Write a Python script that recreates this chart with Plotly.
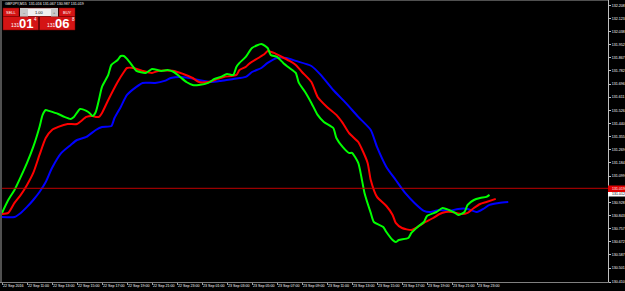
import plotly.graph_objects as go

# ---------------- data (GBPJPY, M15) ----------------
fast_time = ["2016-09-22 09:00", "2016-09-22 09:30", "2016-09-22 10:00", "2016-09-22 10:30", "2016-09-22 11:00",
             "2016-09-22 11:30", "2016-09-22 12:00", "2016-09-22 12:15", "2016-09-22 12:30", "2016-09-22 12:45",
             "2016-09-22 13:30", "2016-09-22 14:00", "2016-09-22 14:30", "2016-09-22 14:45", "2016-09-22 15:15",
             "2016-09-22 15:45", "2016-09-22 16:00", "2016-09-22 16:15", "2016-09-22 16:30", "2016-09-22 16:45",
             "2016-09-22 17:00", "2016-09-22 17:30", "2016-09-22 17:45", "2016-09-22 18:15", "2016-09-22 18:30",
             "2016-09-22 18:45", "2016-09-22 19:00", "2016-09-22 19:30", "2016-09-22 19:45", "2016-09-22 20:30",
             "2016-09-22 21:00", "2016-09-22 21:45", "2016-09-22 22:15", "2016-09-22 22:45", "2016-09-22 23:15",
             "2016-09-22 23:45", "2016-09-23 00:15", "2016-09-23 00:45", "2016-09-23 01:30", "2016-09-23 02:00",
             "2016-09-23 02:30", "2016-09-23 03:00", "2016-09-23 03:30", "2016-09-23 03:45", "2016-09-23 04:00",
             "2016-09-23 04:30", "2016-09-23 05:00", "2016-09-23 05:45", "2016-09-23 06:15", "2016-09-23 06:30",
             "2016-09-23 07:00", "2016-09-23 07:30", "2016-09-23 08:00", "2016-09-23 08:30", "2016-09-23 08:45",
             "2016-09-23 09:15", "2016-09-23 09:45", "2016-09-23 10:15", "2016-09-23 10:45", "2016-09-23 11:30",
             "2016-09-23 11:45", "2016-09-23 12:15", "2016-09-23 12:45", "2016-09-23 13:00", "2016-09-23 13:30",
             "2016-09-23 13:45", "2016-09-23 14:00", "2016-09-23 14:30", "2016-09-23 14:45", "2016-09-23 15:30",
             "2016-09-23 15:45", "2016-09-23 16:15", "2016-09-23 16:30", "2016-09-23 16:45", "2016-09-23 17:30",
             "2016-09-23 17:45", "2016-09-23 18:15", "2016-09-23 18:45", "2016-09-23 19:00", "2016-09-23 19:45",
             "2016-09-23 20:15", "2016-09-23 20:45", "2016-09-23 21:15", "2016-09-23 21:30", "2016-09-23 22:00",
             "2016-09-23 22:15", "2016-09-23 22:45", "2016-09-23 23:15", "2016-09-23 23:45", "2016-09-24 00:00"]
fast_val = [130.859, 130.943, 131.008, 131.093, 131.184,
            131.288, 131.418, 131.496, 131.528, 131.522,
            131.502, 131.483, 131.470, 131.483, 131.535,
            131.522, 131.509, 131.489, 131.515, 131.593,
            131.678, 131.756, 131.821, 131.853, 131.879,
            131.879, 131.860, 131.808, 131.782, 131.769,
            131.795, 131.782, 131.788, 131.775, 131.743,
            131.710, 131.691, 131.691, 131.704, 131.730,
            131.743, 131.762, 131.756, 131.808, 131.834,
            131.873, 131.931, 131.957, 131.931, 131.886,
            131.873, 131.834, 131.801, 131.769, 131.704,
            131.645, 131.574, 131.496, 131.450, 131.411,
            131.346, 131.288, 131.249, 131.249, 131.184,
            131.093, 130.989, 130.859, 130.800, 130.768,
            130.735, 130.683, 130.670, 130.683, 130.696,
            130.729, 130.768, 130.800, 130.839, 130.865,
            130.891, 130.878, 130.859, 130.846, 130.865,
            130.911, 130.943, 130.956, 130.963, 130.976]

mid_time = ["2016-09-22 09:00", "2016-09-22 09:30", "2016-09-22 10:00", "2016-09-22 10:30", "2016-09-22 11:00",
            "2016-09-22 11:30", "2016-09-22 12:00", "2016-09-22 12:30", "2016-09-22 13:00", "2016-09-22 13:30",
            "2016-09-22 14:15", "2016-09-22 15:00", "2016-09-22 15:45", "2016-09-22 16:15", "2016-09-22 16:30",
            "2016-09-22 16:45", "2016-09-22 17:00", "2016-09-22 17:30", "2016-09-22 18:15", "2016-09-22 18:45",
            "2016-09-22 19:00", "2016-09-22 19:30", "2016-09-22 20:15", "2016-09-22 21:00", "2016-09-22 21:30",
            "2016-09-22 22:45", "2016-09-22 23:30", "2016-09-23 00:15", "2016-09-23 00:45", "2016-09-23 01:30",
            "2016-09-23 02:15", "2016-09-23 02:45", "2016-09-23 03:45", "2016-09-23 04:00", "2016-09-23 04:30",
            "2016-09-23 04:45", "2016-09-23 05:30", "2016-09-23 06:00", "2016-09-23 06:15", "2016-09-23 06:45",
            "2016-09-23 07:15", "2016-09-23 08:00", "2016-09-23 08:30", "2016-09-23 09:00", "2016-09-23 09:45",
            "2016-09-23 10:15", "2016-09-23 11:00", "2016-09-23 11:45", "2016-09-23 12:15", "2016-09-23 12:45",
            "2016-09-23 13:30", "2016-09-23 13:45", "2016-09-23 14:15", "2016-09-23 14:30", "2016-09-23 15:00",
            "2016-09-23 15:45", "2016-09-23 16:15", "2016-09-23 16:30", "2016-09-23 17:00", "2016-09-23 17:45",
            "2016-09-23 18:15", "2016-09-23 18:45", "2016-09-23 19:30", "2016-09-23 20:00", "2016-09-23 20:30",
            "2016-09-23 21:00", "2016-09-23 21:45", "2016-09-23 22:15", "2016-09-23 22:45", "2016-09-23 23:15",
            "2016-09-23 23:45", "2016-09-24 00:30"]
mid_val = [130.852, 130.859, 130.924, 130.976, 131.041,
           131.119, 131.236, 131.346, 131.398, 131.418,
           131.437, 131.437, 131.483, 131.489, 131.483,
           131.483, 131.509, 131.593, 131.710, 131.775,
           131.801, 131.801, 131.782, 131.769, 131.782,
           131.782, 131.762, 131.736, 131.710, 131.710,
           131.730, 131.743, 131.756, 131.788, 131.808,
           131.827, 131.866, 131.892, 131.912, 131.899,
           131.879, 131.847, 131.821, 131.775, 131.710,
           131.613, 131.548, 131.496, 131.444, 131.379,
           131.320, 131.281, 131.184, 131.073, 130.963,
           130.904, 130.846, 130.794, 130.761, 130.748,
           130.768, 130.794, 130.826, 130.852, 130.865,
           130.865, 130.852, 130.859, 130.891, 130.917,
           130.930, 130.950]

slow_time = ["2016-09-22 09:00", "2016-09-22 10:00", "2016-09-22 10:30", "2016-09-22 11:00", "2016-09-22 11:30",
             "2016-09-22 12:00", "2016-09-22 12:30", "2016-09-22 13:00", "2016-09-22 13:45", "2016-09-22 14:30",
             "2016-09-22 15:00", "2016-09-22 15:45", "2016-09-22 16:30", "2016-09-22 17:00", "2016-09-22 17:45",
             "2016-09-22 18:00", "2016-09-22 18:30", "2016-09-22 19:00", "2016-09-22 19:45", "2016-09-22 20:15",
             "2016-09-22 21:15", "2016-09-22 22:00", "2016-09-22 22:30", "2016-09-22 23:15", "2016-09-23 00:00",
             "2016-09-23 00:45", "2016-09-23 01:45", "2016-09-23 02:30", "2016-09-23 03:30", "2016-09-23 04:30",
             "2016-09-23 05:00", "2016-09-23 05:45", "2016-09-23 06:15", "2016-09-23 07:00", "2016-09-23 07:45",
             "2016-09-23 08:30", "2016-09-23 09:45", "2016-09-23 10:30", "2016-09-23 11:30", "2016-09-23 12:30",
             "2016-09-23 13:30", "2016-09-23 14:30", "2016-09-23 15:00", "2016-09-23 15:45", "2016-09-23 16:30",
             "2016-09-23 17:15", "2016-09-23 18:00", "2016-09-23 18:45", "2016-09-23 19:15", "2016-09-23 20:00",
             "2016-09-23 20:45", "2016-09-23 21:30", "2016-09-23 22:15", "2016-09-23 23:00", "2016-09-23 23:30",
             "2016-09-24 00:00", "2016-09-24 00:45", "2016-09-24 01:30"]
slow_val = [130.833, 130.833, 130.859, 130.898, 130.943,
            130.995, 131.060, 131.151, 131.249, 131.301,
            131.333, 131.353, 131.398, 131.418, 131.424,
            131.476, 131.548, 131.626, 131.678, 131.704,
            131.704, 131.717, 131.736, 131.743, 131.736,
            131.723, 131.710, 131.717, 131.730, 131.743,
            131.775, 131.801, 131.834, 131.866, 131.866,
            131.847, 131.814, 131.756, 131.658, 131.574,
            131.483, 131.398, 131.288, 131.158, 131.073,
            130.989, 130.924, 130.872, 130.865, 130.878,
            130.872, 130.885, 130.885, 130.865, 130.885,
            130.911, 130.924, 130.930]

bid_price = 131.019

tick_times = ["2016-09-22 09:00", "2016-09-22 11:00", "2016-09-22 13:00", "2016-09-22 15:00", "2016-09-22 17:00",
              "2016-09-22 19:00", "2016-09-22 21:00", "2016-09-22 23:00", "2016-09-23 01:00", "2016-09-23 03:00",
              "2016-09-23 05:00", "2016-09-23 07:00", "2016-09-23 09:00", "2016-09-23 11:00", "2016-09-23 13:00",
              "2016-09-23 15:00", "2016-09-23 17:00", "2016-09-23 19:00", "2016-09-23 21:00", "2016-09-23 23:00"]
tick_labels = ["22 Sep 2016", "22 Sep 11:00", "22 Sep 13:00", "22 Sep 15:00", "22 Sep 17:00",
               "22 Sep 19:00", "22 Sep 21:00", "22 Sep 23:00", "23 Sep 01:00", "23 Sep 03:00",
               "23 Sep 05:00", "23 Sep 07:00", "23 Sep 09:00", "23 Sep 11:00", "23 Sep 13:00",
               "23 Sep 15:00", "23 Sep 17:00", "23 Sep 19:00", "23 Sep 21:00", "23 Sep 23:00"]

price_ticks = [130.410, 130.501, 130.587, 130.672, 130.757, 130.843, 130.928, 131.099, 131.184,
               131.269, 131.355, 131.440, 131.526, 131.611, 131.696, 131.782, 131.867, 131.952,
               132.038, 132.123, 132.208]
price_tick_labels = [f"{v:.3f}" for v in price_ticks]

# ---------------- layout geometry ----------------
W, H = 625, 291
ML, MR, MT, MB = 0, 17, 0, 9
PW, PH = W - ML - MR, H - MT - MB


def px(x):
    return (x - ML) / PW


def py(y):
    return 1 - (y - MT) / PH


FONT = "Liberation Sans, Arial, sans-serif"
SMALL = 3.6

fig = go.Figure()
for t, v, c in [(slow_time, slow_val, "#0000ff"), (mid_time, mid_val, "#ff0000"), (fast_time, fast_val, "#00ff00")]:
    fig.add_trace(go.Scatter(x=t, y=v, mode="lines", line=dict(color=c, width=2, shape="spline", smoothing=0.6),
                             hoverinfo="skip", showlegend=False))

shapes = []
annotations = []

# bid line
shapes.append(dict(type="line", xref="paper", yref="y", x0=0, x1=1, y0=bid_price, y1=bid_price,
                   line=dict(color="#c00000", width=1)))
# frame (left/top dark)
shapes.append(dict(type="line", xref="paper", yref="paper", x0=px(1), x1=px(1), y0=0, y1=1,
                   line=dict(color="#505050", width=2)))
shapes.append(dict(type="line", xref="paper", yref="paper", x0=0, x1=1, y0=py(0.5), y1=py(0.5),
                   line=dict(color="#505050", width=1)))

# bid price label on the axis
shapes.append(dict(type="rect", xref="paper", yref="paper", x0=px(608), x1=px(625), y0=py(185.5), y1=py(192),
                   fillcolor="#e00000", line=dict(width=0), layer="above"))
annotations.append(dict(x=px(610), y=py(188.8), xref="paper", yref="paper", text=f"{bid_price:.3f}",
                        showarrow=False, xanchor="left", yanchor="middle",
                        font=dict(family=FONT, size=SMALL, color="#ffffff")))
shapes.append(dict(type="rect", xref="paper", yref="paper", x0=px(608), x1=px(625), y0=py(192), y1=py(196.5),
                   fillcolor="#ffffff", line=dict(width=0), layer="above"))
annotations.append(dict(x=px(610), y=py(194.2), xref="paper", yref="paper", text="131.012",
                        showarrow=False, xanchor="left", yanchor="middle",
                        font=dict(family=FONT, size=SMALL, color="#000000")))

# symbol header
annotations.append(dict(x=px(3), y=py(4.5), xref="paper", yref="paper",
                        text="GBPJPY,M15  131.016 131.067 130.987 131.019",
                        showarrow=False, xanchor="left", yanchor="middle",
                        font=dict(family=FONT, size=SMALL, color="#ffffff")))

# one-click trading panel
RED = "#d41414"
panel_boxes = [(3, 19, 8, 16.5, RED), (20, 58, 8, 16.5, "#f0f0f0"), (59, 75, 8, 16.5, RED),
               (3, 38.5, 16.5, 30, RED), (39.5, 75, 16.5, 30, RED)]
for x0, x1, y0, y1, col in panel_boxes:
    shapes.append(dict(type="rect", xref="paper", yref="paper", x0=px(x0), x1=px(x1), y0=py(y1), y1=py(y0),
                       fillcolor=col, line=dict(color="#7a0000", width=0.5), layer="above"))
shapes.append(dict(type="rect", xref="paper", yref="paper", x0=px(20), x1=px(28), y0=py(16.5), y1=py(8),
                   fillcolor="#c8c8c8", line=dict(width=0), layer="above"))
shapes.append(dict(type="rect", xref="paper", yref="paper", x0=px(51), x1=px(58), y0=py(16.5), y1=py(8),
                   fillcolor="#c8c8c8", line=dict(width=0), layer="above"))


def label(x, y, text, size, color="#ffffff", bold=False, anchor="center"):
    annotations.append(dict(x=px(x), y=py(y), xref="paper", yref="paper",
                            text=f"<b>{text}</b>" if bold else text, showarrow=False,
                            xanchor=anchor, yanchor="middle",
                            font=dict(family=FONT, size=size, color=color)))


label(11, 12.3, "SELL", 4)
label(67, 12.3, "BUY", 4)
label(39.5, 12.3, "1.00", 4, "#000000")
label(24, 12.3, "–", 4, "#555555")
label(54.5, 12.3, "+", 4, "#555555")
label(8.5, 25, "131", 5, anchor="left")
label(16.5, 23.5, "01", 13, bold=True, anchor="left")
label(32, 19.5, "4", 4.5, anchor="left")
label(45, 25, "131", 5, anchor="left")
label(53, 23.5, "06", 13, bold=True, anchor="left")
label(69.5, 19.5, "8", 4.5, anchor="left")

fig.update_layout(
    width=W, height=H,
    margin=dict(l=ML, r=MR, t=MT, b=MB, pad=0),
    paper_bgcolor="#000000", plot_bgcolor="#000000",
    shapes=shapes, annotations=annotations,
    xaxis=dict(type="date", range=["2016-09-22 08:50:24", "2016-09-24 09:28:48"],
               tickvals=tick_times, ticktext=tick_labels, ticklabelposition="outside right",
               tickangle=0, ticklabelstandoff=0,
               tickfont=dict(family=FONT, size=SMALL, color="#ffffff"),
               ticks="outside", ticklen=2, tickcolor="#a0a0a0", tickwidth=1,
               showgrid=False, zeroline=False, showline=True, linecolor="#808080", linewidth=1,
               automargin=False, fixedrange=True),
    yaxis=dict(range=[130.410, 132.243], side="right", tickvals=price_ticks, ticktext=price_tick_labels,
               tickfont=dict(family=FONT, size=SMALL, color="#ffffff"),
               ticks="outside", ticklen=2, tickcolor="#c0c0c0", tickwidth=1,
               showgrid=False, zeroline=False, showline=True, linecolor="#c0c0c0", linewidth=1,
               automargin=False, fixedrange=True),
)

fig.write_html("out.html", config={"displayModeBar": False})
